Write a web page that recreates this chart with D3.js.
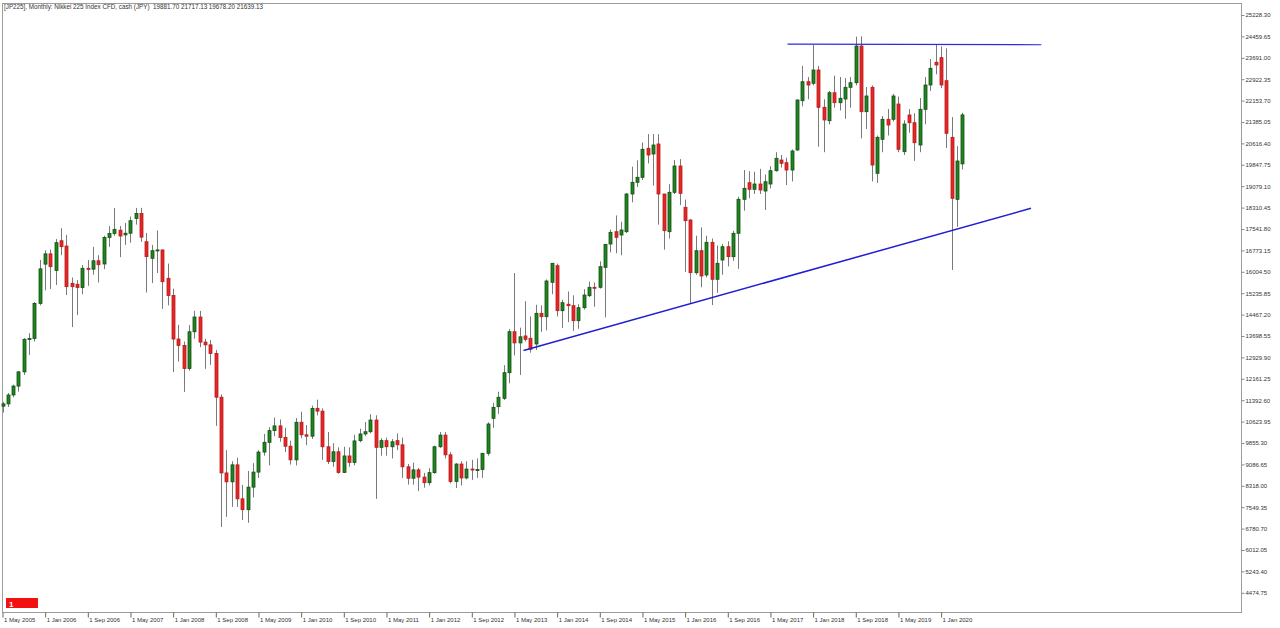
<!DOCTYPE html>
<html>
<head>
<meta charset="utf-8">
<script src="https://cdn.jsdelivr.net/npm/d3@7"></script>
<style>
  body { margin: 0; background: #fff; }
  svg { display: block; }
  text { font-family: "Liberation Sans", "DejaVu Sans", sans-serif; fill: #333; }
</style>
</head>
<body>
<svg id="chart" width="1280" height="628"></svg>
<script>
const title = "[JP225], Monthly: Nikkei 225 Index CFD, cash (JPY)  19881.70 21717.13 19678.20 21639.13";

// monthly bars, [open, high, low, close], first bar = May 2005
const y2005 = [
  [11180, 11330, 10950, 11260], [11260, 11650, 11150, 11580], [11580, 11950, 11500, 11900],
  [11900, 12430, 11700, 12410], [12410, 13620, 12300, 13580], [13580, 13800, 13020, 13610],
  [13610, 14920, 13500, 14870], [14870, 16430, 14800, 16110]
];
const y2006 = [
  [16280, 16780, 15340, 16650], [16650, 16800, 15390, 16190], [16050, 17180, 15530, 17050],
  [17120, 17570, 16600, 16906], [16930, 17330, 15170, 15470], [15590, 15800, 14020, 15470],
  [15556, 15710, 14450, 15440], [15440, 16250, 15200, 16130], [16130, 16430, 15500, 16100],
  [16100, 16900, 15900, 16400], [16400, 16600, 15620, 16260], [16285, 17300, 16100, 17240]
];
const y2007 = [
  [17240, 17650, 16900, 17380], [17380, 18300, 17300, 17530], [17500, 17650, 16530, 17290],
  [17330, 17760, 16970, 17390], [17390, 17990, 17050, 17840], [17920, 18300, 17700, 18100],
  [18100, 18300, 17080, 17250], [17085, 17400, 15260, 16550], [16490, 16970, 15600, 16763],
  [16763, 17490, 15960, 16790], [16790, 16800, 14670, 15650], [15770, 16300, 14800, 15150]
];
const y2008 = [
  [15150, 15400, 12400, 13590], [13590, 14100, 12780, 13360], [13360, 13500, 11690, 12530],
  [12530, 14090, 12450, 13850], [13850, 14600, 13600, 14380], [14380, 14600, 13300, 13480],
  [13480, 13600, 12520, 13380], [13380, 13550, 12660, 13070], [13070, 13200, 10470, 11500],
  [11500, 11600, 6840, 8780], [8780, 9600, 7200, 8460], [8460, 9200, 7560, 9070]
];
const y2009 = [
  [9070, 9330, 7560, 7850], [7850, 8350, 7090, 7460], [7460, 8850, 6990, 8270],
  [8270, 9130, 7900, 8810], [8810, 9600, 8600, 9530], [9530, 10180, 9400, 9880],
  [9880, 10420, 9050, 10300], [10300, 10770, 10100, 10470], [10470, 10700, 9900, 10050],
  [10050, 10400, 9530, 9740], [9740, 9940, 9080, 9250], [9250, 10750, 9050, 10600]
];
const y2010 = [
  [10600, 10980, 10030, 10150], [10150, 10500, 9780, 10100], [10100, 11200, 10000, 11100],
  [11100, 11410, 10850, 11000], [11000, 11100, 9250, 9720], [9720, 10250, 9100, 9190],
  [9190, 9850, 9000, 9540], [9540, 9700, 8750, 8800], [8800, 9720, 8780, 9390],
  [9390, 9700, 9000, 9160], [9160, 10150, 9050, 9930], [9940, 10370, 9880, 10180]
];
const y2011 = [
  [10180, 10610, 10100, 10260], [10260, 10890, 10200, 10680], [10680, 10850, 7850, 9700],
  [9700, 10030, 9400, 9940], [9940, 10050, 9400, 9720], [9720, 10000, 9300, 9900],
  [9940, 10200, 9600, 9790], [9790, 10050, 8600, 9000], [9000, 9100, 8360, 8590],
  [8590, 9150, 8360, 8890], [8890, 8960, 8130, 8630], [8630, 8780, 8250, 8430]
];
const y2012 = [
  [8430, 8950, 8330, 8790], [8790, 9760, 8750, 9720], [9720, 10250, 9680, 10140],
  [10140, 10250, 9300, 9430], [9430, 9530, 8400, 8470], [8470, 9130, 8240, 9100],
  [9100, 9200, 8330, 8600], [8600, 9200, 8550, 8920], [8920, 9250, 8530, 8895],
  [8895, 9300, 8600, 8900], [8900, 9500, 8600, 9485], [9485, 10600, 9400, 10538]
];
const y2013 = [
  [10742, 11300, 10400, 11137], [11160, 11700, 10900, 11497], [11461, 12650, 11400, 12380],
  [12380, 13950, 12000, 13853], [13853, 15960, 13000, 13450], [13450, 14000, 12300, 13670],
  [13700, 14950, 13500, 13580], [13616, 14400, 13100, 13221], [13412, 14820, 13200, 14514],
  [14514, 14800, 13850, 14392], [14392, 15730, 13900, 15674], [15628, 16320, 15200, 16310]
];
const y2014 = [
  [16224, 16300, 14400, 14607], [14607, 15000, 13990, 14895], [14840, 15300, 14200, 14787],
  [14787, 15160, 13880, 14248], [14248, 14840, 13960, 14715], [14715, 15380, 14650, 15171],
  [15146, 15650, 15100, 15448], [15448, 15620, 14750, 15430], [15448, 16380, 15400, 16188],
  [16166, 17000, 14370, 16992], [17003, 17520, 16700, 17423], [17445, 18030, 16670, 17243]
];
const y2015 = [
  [17326, 17800, 16600, 17506], [17445, 18830, 17400, 18799], [18799, 19780, 18500, 19219],
  [19219, 20010, 19050, 19399], [19399, 20650, 19300, 20405], [20441, 20950, 19900, 20200],
  [20236, 20950, 19100, 20559], [20595, 20950, 17700, 18799], [18799, 18800, 16800, 17481],
  [17445, 19150, 17200, 18860], [18860, 20020, 18800, 19805], [19805, 20050, 18400, 18824]
];
const y2016 = [
  [18321, 18600, 16000, 17840], [17865, 17900, 14860, 15972], [15972, 17300, 15900, 16763],
  [16763, 17600, 15450, 15854], [15890, 17300, 15800, 17064], [17064, 17200, 14810, 15735],
  [15735, 16950, 15250, 16310], [16428, 17000, 15900, 16906], [16906, 17100, 16200, 16547],
  [16547, 17480, 16400, 17387], [17387, 18700, 16110, 18608], [18608, 19660, 18200, 19004]
];
const y2017 = [
  [19205, 19620, 18650, 18968], [18968, 19600, 18800, 19158], [19158, 19700, 18800, 18943],
  [18906, 19500, 18225, 19240], [19158, 19800, 19000, 19636], [19636, 20300, 19600, 20081],
  [20020, 20200, 19750, 19901], [19923, 20100, 19120, 19660], [19660, 20400, 19250, 20344],
  [20380, 22200, 20350, 22175], [22150, 23400, 21950, 22832], [22832, 23000, 22200, 22714]
];
const y2018 = [
  [22775, 24150, 22700, 23253], [23253, 23400, 20500, 21913], [21913, 22200, 20300, 21457],
  [21432, 22500, 21300, 22437], [22437, 23050, 21900, 22078], [22078, 23000, 21800, 22236],
  [22211, 22960, 21500, 22631], [22631, 23000, 21900, 22796], [22796, 24450, 22700, 24115],
  [24115, 24460, 20800, 21755], [21755, 22642, 21134, 22319], [22631, 22700, 19250, 19840]
];
const y2019 = [
  [19542, 20900, 19194, 20835], [20764, 21600, 20300, 21482], [21482, 21850, 20900, 21277],
  [21482, 22400, 21400, 22319], [22031, 22300, 20300, 20404], [20318, 21450, 20200, 21313],
  [21637, 21850, 21000, 21360], [21360, 21700, 19990, 20641], [20559, 22247, 20300, 21841],
  [21841, 23000, 21300, 22714], [22714, 23648, 22500, 23314], [23530, 24151, 23100, 23433]
];
const y2020 = [
  [23695, 24100, 22600, 22714], [22868, 24030, 20450, 20979], [20835, 21560, 16070, 18644],
  [18608, 20520, 17620, 19984], [19881.70, 21717.13, 19678.20, 21639.13]
];

const yTicks = [25228.30, 24459.65, 23691.00, 22922.35, 22153.70, 21385.05, 20616.40, 19847.75,
  19079.10, 18310.45, 17541.80, 16773.15, 16004.50, 15235.85, 14467.20, 13698.55, 12929.90,
  12161.25, 11392.60, 10623.95, 9855.30, 9086.65, 8318.00, 7549.35, 6780.70, 6012.05, 5243.40, 4474.75];

const xTickLabels = ["1 May 2005", "1 Jan 2006", "1 Sep 2006", "1 May 2007", "1 Jan 2008", "1 Sep 2008",
  "1 May 2009", "1 Jan 2010", "1 Sep 2010", "1 May 2011", "1 Jan 2012", "1 Sep 2012", "1 May 2013",
  "1 Jan 2014", "1 Sep 2014", "1 May 2015", "1 Jan 2016", "1 Sep 2016", "1 May 2017", "1 Jan 2018",
  "1 Sep 2018", "1 May 2019", "1 Jan 2020"];

// drawn lines, [bar index, price]
const supportLine = [[97.7, 13180], [192.85, 18285]];
const resistanceLine = [[147.2, 24185], [194.8, 24160]];

const bars = [].concat(y2005, y2006, y2007, y2008, y2009, y2010, y2011, y2012,
  y2013, y2014, y2015, y2016, y2017, y2018, y2019, y2020)
  .map(([o, h, l, c], i) => ({ i, o, h, l, c }));

const plot = { left: 2.5, top: 3.5, right: 1241.5, bottom: 612.5 };

const svg = d3.select("#chart");

const x = d3.scaleLinear().domain([0, 176]).range([2.5, 941.1]);
const y = d3.scaleLinear().domain([4474.75, 25228.30]).range([592.8, 15]);

svg.append("rect")
  .attr("width", 1280).attr("height", 628).attr("fill", "#fff");

// frame
svg.append("rect")
  .attr("x", plot.left).attr("y", plot.top)
  .attr("width", plot.right - plot.left).attr("height", plot.bottom - plot.top)
  .attr("fill", "none").attr("stroke", "#9c9c9c").attr("stroke-width", 1);

// price axis
const yAxis = svg.append("g")
  .attr("transform", `translate(${plot.right},0)`)
  .call(d3.axisRight(y).tickValues(yTicks).tickSize(3).tickPadding(1).tickFormat(d3.format(".2f")));
yAxis.select(".domain").remove();
yAxis.selectAll("line").attr("stroke", "#888");
yAxis.selectAll("text").attr("font-size", "6px").attr("fill", "#333")
  .style("font-family", '"Liberation Sans", sans-serif');

// time axis
const xAxis = svg.append("g")
  .attr("transform", `translate(0,${plot.bottom})`)
  .call(d3.axisBottom(x)
    .tickValues(xTickLabels.map((_, k) => k * 8))
    .tickFormat((d, k) => xTickLabels[k])
    .tickSize(5).tickPadding(0));
xAxis.select(".domain").remove();
xAxis.selectAll("line").attr("stroke", "#666");
xAxis.selectAll("text")
  .attr("text-anchor", "start").attr("x", 1).attr("y", 9.5).attr("dy", 0)
  .attr("font-size", "6px").attr("fill", "#333")
  .style("font-family", '"Liberation Sans", sans-serif');

// candles
const g = svg.append("g");
const px = (i) => Math.round(x(i));

g.selectAll("line.wick").data(bars).join("line")
  .attr("class", "wick")
  .attr("x1", d => px(d.i) + 0.5).attr("x2", d => px(d.i) + 0.5)
  .attr("y1", d => y(d.h)).attr("y2", d => y(d.l))
  .attr("stroke", "#7a7a7a").attr("stroke-width", 1);

g.selectAll("rect.body").data(bars).join("rect")
  .attr("class", "body")
  .attr("x", d => px(d.i) - 1)
  .attr("width", 3)
  .attr("y", d => y(Math.max(d.o, d.c)))
  .attr("height", d => Math.max(1, Math.abs(y(d.o) - y(d.c))))
  .attr("fill", d => d.c >= d.o ? "#1f851f" : "#e42626")
  .attr("stroke", d => d.c >= d.o ? "#124f12" : "#b81c1c")
  .attr("stroke-width", 0.8);

// trend lines
const line = d3.line().x(d => x(d[0])).y(d => y(d[1]));
svg.append("path").datum(supportLine)
  .attr("d", line).attr("fill", "none")
  .attr("stroke", "#1f1fd2").attr("stroke-width", 1.5);
svg.append("path").datum(resistanceLine)
  .attr("d", line).attr("fill", "none")
  .attr("stroke", "#2b2be0").attr("stroke-width", 1.2);

// title
svg.append("text")
  .attr("x", 4).attr("y", 9)
  .attr("font-size", "6.5px").attr("fill", "#333")
  .attr("textLength", 259).attr("lengthAdjust", "spacingAndGlyphs")
  .attr("xml:space", "preserve")
  .style("white-space", "pre")
  .text(title);

// one-click badge
svg.append("rect")
  .attr("x", 6).attr("y", 598).attr("width", 32).attr("height", 10)
  .attr("fill", "#f21010");
svg.append("text")
  .attr("x", 9).attr("y", 606.5)
  .attr("font-size", "8px").attr("font-weight", "bold")
  .style("fill", "#fff")
  .text("1");
</script>
</body>
</html>
